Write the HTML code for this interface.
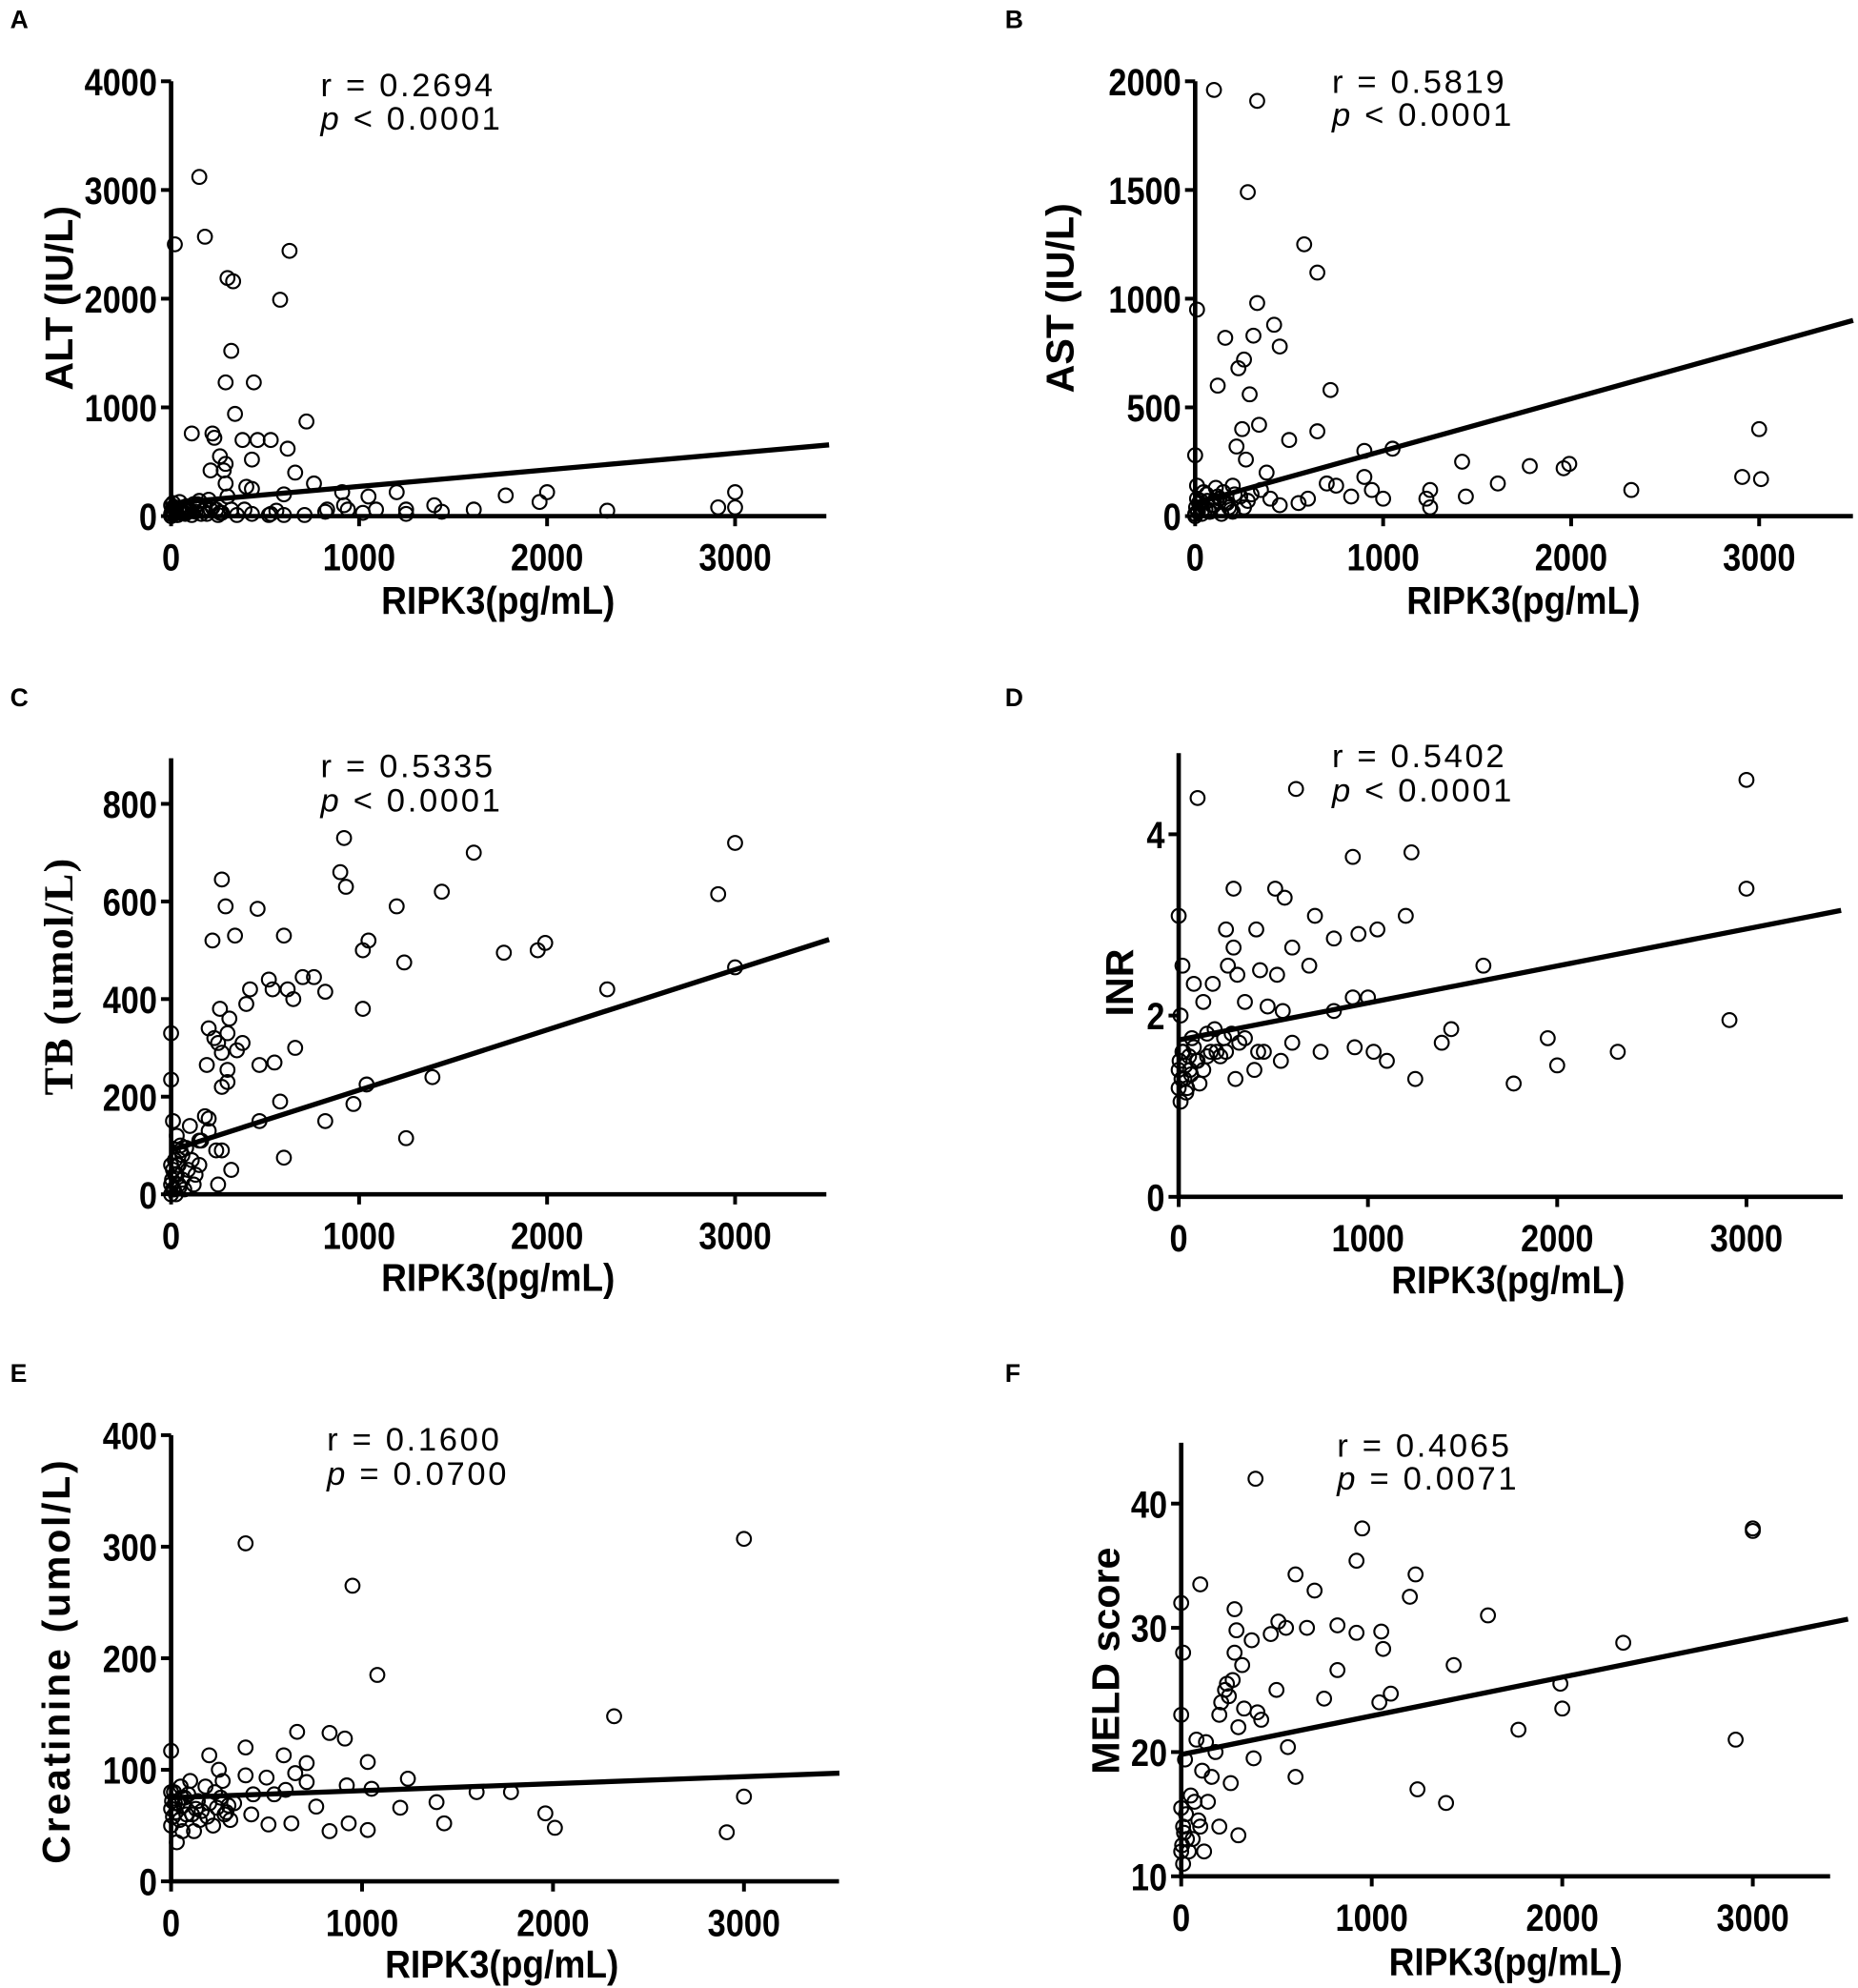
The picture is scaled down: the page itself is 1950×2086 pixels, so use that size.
<!DOCTYPE html>
<html><head><meta charset="utf-8"><style>
html,body{margin:0;padding:0;background:#fff;}
svg{display:block;}
text{font-family:"Liberation Sans",Arial,sans-serif;fill:#000;}
.tick{font-size:30px;font-weight:bold;}
.ttl{font-size:31px;font-weight:bold;}
.stat{font-size:26px;letter-spacing:2px;}
.lab{font-size:20px;font-weight:bold;}
</style></head><body>
<svg id="fig" width="1950" height="2086" viewBox="0 0 1466 1568" xmlns="http://www.w3.org/2000/svg"></svg>
<script>
// ---- data (RIPK3 pg/mL, value) ----
const altX=[20,150,180,300,330,580,630,320,290,440,340,110,220,230,380,460,530,620,720,260,290,430,210,280,660,760,290,400,430,600,910,1050,1200,1400,1780,1960,2000,2320,2910,3000,3000,1250,1250,1610,1440,940,920,820,830,710,600,530,520,430,390,560,1090,1020,0,10,20,40,60,80,100,120,150,180,200,240,270,300,0,30,50,90,130,160,210,250,5,70,0,5,10,15,25,35,45,55,65,75,85,95,110,140,170,190,220,260,320,350];
const altY=[2500,3120,2570,2190,2160,1990,2440,1520,1230,1230,940,760,760,720,700,700,700,620,870,550,480,520,420,420,400,300,300,270,250,200,220,180,220,100,190,130,220,50,80,220,80,60,20,60,40,60,100,40,60,10,10,20,10,20,60,50,60,30,100,120,80,60,40,90,50,110,140,70,150,60,30,180,20,10,30,70,40,20,60,10,50,30,0,40,80,20,60,10,130,30,70,20,90,40,10,110,50,20,80,30,60,10];
const astX=[10,100,330,280,580,650,330,160,310,420,450,230,260,290,120,340,250,720,650,900,1050,500,220,270,1420,1780,1990,1960,3000,2910,3010,2320,1610,1250,1230,1440,1250,940,900,1000,830,700,750,600,550,450,400,380,300,350,200,0,10,20,40,60,80,100,130,150,180,0,30,70,110,160,200,240,0,5,10,15,25,35,45,55,65,75,90,120,140,170,190,210,260,280];
const astY=[950,1960,1910,1490,1250,1120,980,820,830,880,780,680,720,560,600,420,400,580,390,300,310,350,320,260,250,230,240,220,400,180,170,120,150,120,80,90,40,120,180,80,90,150,140,80,60,50,80,200,100,120,140,280,140,60,30,100,20,50,80,110,40,10,70,30,130,60,20,90,0,40,80,20,60,10,110,30,70,20,50,90,10,60,30,100,40,70];
const tbX=[920,3000,1610,900,930,270,290,1440,460,1200,2910,340,600,220,1990,1950,1770,1050,1020,1240,520,420,700,760,620,540,400,650,820,260,310,1020,3000,2320,300,200,230,250,270,380,350,660,470,550,300,190,300,270,1390,1040,970,820,580,470,1250,600,320,0,0,10,100,30,270,240,180,200,150,80,60,40,20,0,10,120,250,150,50,0,0,5,10,15,20,30,40,50,60,70,90,110,130,160,200,25,35,45];
const tbY=[730,720,700,660,630,645,590,620,585,590,615,530,530,520,515,500,495,520,500,475,440,420,445,445,420,420,390,400,415,380,360,380,465,420,330,340,320,310,290,310,295,300,265,270,255,265,230,220,240,225,185,150,190,150,115,75,50,330,235,150,140,120,90,90,160,155,110,95,80,60,40,20,10,20,20,60,100,60,0,30,50,10,70,40,20,90,30,10,50,70,40,110,130,0,60,15];
const inrX=[100,620,3000,3000,1230,920,1200,290,510,720,560,0,250,410,1050,950,820,290,600,690,260,430,1610,520,310,20,80,180,920,1000,820,130,350,550,470,1440,1390,1950,2000,2320,2910,1770,1250,1100,1030,930,750,540,600,450,400,300,200,150,100,60,30,0,10,40,20,70,240,280,320,0,5,10,15,25,35,45,55,65,80,95,110,130,150,170,190,220,250,350,420];
const inrY=[4.4,4.5,4.6,3.4,3.8,3.75,3.1,3.4,3.4,3.1,3.3,3.1,2.95,2.95,2.95,2.9,2.85,2.75,2.75,2.55,2.55,2.5,2.55,2.45,2.45,2.55,2.35,2.35,2.2,2.2,2.05,2.15,2.15,2.05,2.1,1.85,1.7,1.75,1.45,1.6,1.95,1.25,1.3,1.5,1.6,1.65,1.6,1.5,1.7,1.6,1.4,1.3,1.6,1.8,1.5,1.4,1.3,1.2,1.05,1.15,1.6,1.75,1.75,1.8,1.7,1.4,1.5,2.0,1.3,1.6,1.45,1.2,1.55,1.35,1.65,1.5,1.25,1.4,1.55,1.6,1.85,1.55,1.6,1.75,1.6];
const crX=[390,3000,950,1080,2320,830,910,660,0,390,590,200,1030,710,250,650,390,500,1240,710,920,1050,1600,1780,430,540,600,760,1200,1390,1960,2010,1430,930,1030,830,2910,3000,630,510,420,120,30,60,0,150,220,310,280,100,50,0,20,70,130,180,230,270,330,80,200,0,5,10,15,25,35,45,55,65,90,110,140,160,190,240,260,290,300];
const crY=[303,307,265,185,148,133,128,134,117,120,113,113,107,106,100,97,95,93,92,89,86,83,80,80,78,78,82,67,66,71,61,48,52,52,46,45,44,76,52,51,60,45,35,45,50,55,50,55,60,90,85,80,70,75,65,85,80,90,70,60,70,65,72,58,80,62,70,55,75,68,78,60,72,63,58,66,75,62,68];
const mdX=[390,3000,3000,950,1230,600,920,1200,700,100,0,10,280,1610,1050,920,1060,2320,290,510,550,660,820,370,470,820,750,1100,1040,1430,1990,2000,1770,2910,1240,1390,600,560,400,420,270,230,200,300,320,500,0,20,80,130,160,50,0,10,30,100,120,0,10,300,200,260,380,5,15,25,40,60,70,90,110,140,180,210,240,250,280,330];
const mdY=[42,38,37.8,38,34.3,34.3,35.4,32.5,33,33.5,32,28,31.5,31,29.7,29.6,28.3,28.8,29.8,30.5,30,30,30.2,29,29.5,26.6,24.3,24.7,24,27,25.5,23.5,21.8,21,17,15.9,18,20.4,23.2,22.6,25.8,25,23,22,27,25,23,19.4,21,20.8,18,16.5,15.5,14,13,14,12,12,11,13.3,14,17.5,19.5,12.5,13.5,15,12,13,16,14.5,18.5,16,20,24,25.5,24.5,28,23.5];
// regression endpoints (value at x=0 and x=3500)
const altFit=[120,655];
const astFit=[60,900];
const tbFit=[90,522];
const inrFit=[1.73,3.16];
const crFit=[75,97];
const mdFit=[19.8,30.7];
const xTicks=[0,1000,2000,3000];
const altTicks=[0,1000,2000,3000,4000];
const astTicks=[0,500,1000,1500,2000];
const tbTicks=[0,200,400,600,800];
const inrTicks=[0,2,4];
const crTicks=[0,100,200,300,400];
const mdTicks=[10,20,30,40];

const panels=[
 {id:'a',letter:'A',lx:8,ly:22,x0:135,x3:580,xe:652,y0:407,yT:64,vT:4000,vB:0,top:64,yt:altTicks,xs:altX,ys:altY,fit:altFit,title:'ALT (IU/L)',tx:47,ty:235,sx:253,sy:[76,102],r:'r = 0.2694',p:'< 0.0001',xt:393,xty:484},
 {id:'b',letter:'B',lx:793,ly:22,x0:943,x3:1388,xe:1462,y0:407,yT:64,vT:2000,vB:0,top:64,yt:astTicks,xs:astX,ys:astY,fit:astFit,title:'AST (IU/L)',tx:837,ty:235,sx:1051,sy:[73,99],r:'r = 0.5819',p:'< 0.0001',xt:1202,xty:484},
 {id:'c',letter:'C',lx:8,ly:557,x0:135,x3:580,xe:652,y0:942,yT:634,vT:800,vB:0,top:598,yt:tbTicks,xs:tbX,ys:tbY,fit:tbFit,title:'TB (umol/L)',tx:47,ty:770,sx:253,sy:[613,640],r:'r = 0.5335',p:'< 0.0001',xt:393,xty:1018,serif:true},
 {id:'d',letter:'D',lx:793,ly:557,x0:930,x3:1378,xe:1454,y0:944,yT:658,vT:4,vB:0,top:594,yt:inrTicks,xs:inrX,ys:inrY,fit:inrFit,title:'INR',tx:884,ty:775,sx:1051,sy:[605,632],r:'r = 0.5402',p:'< 0.0001',xt:1190,xty:1020},
 {id:'e',letter:'E',lx:8,ly:1090,x0:135,x3:587,xe:662,y0:1484,yT:1132,vT:400,vB:0,top:1132,yt:crTicks,xs:crX,ys:crY,fit:crFit,title:'Creatinine (umol/L)',tx:45,ty:1310,sx:258,sy:[1144,1171],r:'r = 0.1600',p:'= 0.0700',xt:396,xty:1560,spaced:true},
 {id:'f',letter:'F',lx:793,ly:1090,x0:932,x3:1383,xe:1444,y0:1480,yT:1186,vT:40,vB:10,top:1138,yt:mdTicks,xs:mdX,ys:mdY,fit:mdFit,title:'MELD score',tx:873,ty:1310,sx:1055,sy:[1149,1175],r:'r = 0.4065',p:'= 0.0071',xt:1188,xty:1558}
];
const NS='http://www.w3.org/2000/svg';
const svg=document.getElementById('fig');
function mk(tag,attrs,parent){const e=document.createElementNS(NS,tag);for(const k in attrs)e.setAttribute(k,attrs[k]);(parent||svg).appendChild(e);return e;}
panels.forEach(P=>{
 const g=mk('g',{});
 
 
 const X=v=>P.x0+(v/3000)*(P.x3-P.x0);
 const Y=v=>P.y0-(v-P.vB)/(P.vT-P.vB)*(P.y0-P.yT);
 const L=mk('text',{x:P.lx,y:P.ly,class:'lab'},g);L.textContent=P.letter;
 
 
 const ax=mk('path',{d:`M${P.x0},${P.top} L${P.x0},${P.y0} L${P.xe},${P.y0}`,fill:'none',stroke:'#000','stroke-width':3.5},g);
 
 
 P.yt.forEach(v=>{
  mk('line',{x1:P.x0-8,x2:P.x0,y1:Y(v),y2:Y(v),stroke:'#000','stroke-width':3},g);
  const t=mk('text',{x:0,y:0,class:'tick','text-anchor':'end',transform:`translate(${P.x0-11},${Y(v)+11}) scale(0.86,1)`},g);t.textContent=v;
  
  
 });
 xTicks.forEach(v=>{
  mk('line',{x1:X(v),x2:X(v),y1:P.y0,y2:P.y0+8,stroke:'#000','stroke-width':3},g);
  const t=mk('text',{x:0,y:0,class:'tick','text-anchor':'middle',transform:`translate(${X(v)},${P.y0+43}) scale(0.86,1)`},g);t.textContent=v;
  
  
 });
 const xt=mk('text',{x:0,y:0,class:'ttl','text-anchor':'middle',transform:`translate(${P.xt},${P.xty}) scale(0.9,1)`},g);xt.textContent='RIPK3(pg/mL)';
 
 
 const yt=mk('text',{x:0,y:0,class:'ttl','text-anchor':'middle',transform:`translate(${P.tx+10},${P.ty}) rotate(-90)`},g);yt.textContent=P.title;
 if(P.serif){yt.setAttribute('style','font-family:"Liberation Serif",serif;font-size:33px;letter-spacing:1px');}
 if(P.spaced){yt.setAttribute('style','letter-spacing:2px;font-size:31px');}
 
 
 P.xs.forEach((xv,i)=>{
  const c=mk('circle',{cx:X(xv),cy:Y(P.ys[i]),r:5.5,fill:'none',stroke:'#000','stroke-width':1.6},g);
  
  
 });
 const f=mk('line',{x1:X(0),y1:Y(P.fit[0]),x2:X(3500),y2:Y(P.fit[1]),stroke:'#000','stroke-width':4},g);
 
 
 const s1=mk('text',{x:P.sx,y:P.sy[0],class:'stat'},g);s1.textContent=P.r;
 
 
 const s2=mk('text',{x:P.sx,y:P.sy[1],class:'stat'},g);
 const pi=mk('tspan',{'font-style':'italic'},s2);pi.textContent='p';
 const pr=mk('tspan',{},s2);pr.textContent='  '+P.p;
 pr.setAttribute('xml:space','preserve');
 
 
});
</script>
</body></html>
